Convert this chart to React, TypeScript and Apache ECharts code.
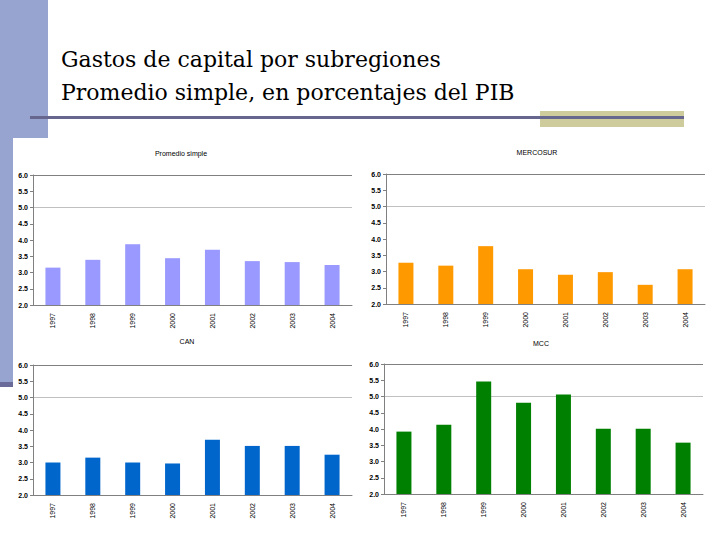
import React, { useEffect, useRef } from "react";
import * as echarts from "echarts";

// years on every panel
const years = ["1997", "1998", "1999", "2000", "2001", "2002", "2003", "2004"];

// capital spending, % of GDP
const promedioSimple = [3.15, 3.39, 3.87, 3.44, 3.7, 3.35, 3.32, 3.23];
const mercosur = [3.27, 3.18, 3.78, 3.07, 2.9, 2.98, 2.59, 3.07];
const can = [3.0, 3.15, 3.0, 2.97, 3.7, 3.51, 3.51, 3.24];
const mcc = [3.92, 4.13, 5.46, 4.81, 5.06, 4.01, 4.01, 3.58];

const panelNames = ["Promedio simple", "MERCOSUR", "CAN", "MCC"];
const panelColors = ["#9999FF", "#FF9900", "#0066CC", "#008000"];
const panelData = [promedioSimple, mercosur, can, mcc];

const slideTitle = ["Gastos de capital por subregiones", "Promedio simple, en porcentajes del PIB"];

// grid boxes (px) for the four small charts
const grids = [
  { left: 33, top: 175, width: 319, height: 130 },
  { left: 386, top: 174, width: 319, height: 130 },
  { left: 33, top: 365, width: 319, height: 130 },
  { left: 384, top: 364, width: 319, height: 130 },
];
// where each panel's little title sits
const titlePos = [
  { x: 181, y: 153 },
  { x: 537, y: 152 },
  { x: 187, y: 341 },
  { x: 541, y: 343 },
];

// only the 5.0 and 6.0 gridlines show (2.0 ... 6.0 in steps of 0.5)
const splitColors = [
  "transparent", "transparent", "transparent", "transparent", "transparent",
  "transparent", "#c0c0c0", "transparent", "#808080",
];

const smallFont = "Liberation Sans";

const App = () => {
  const chartRef = useRef<HTMLDivElement>(null);

  useEffect(() => {
    if (!chartRef.current) return;
    const chart = echarts.init(chartRef.current, undefined, { renderer: "svg" });

    const option: any = {
      animation: false,
      backgroundColor: "#ffffff",
      grid: grids.map((g) => ({ ...g, containLabel: false })),
      xAxis: grids.map((_, i) => ({
        type: "category",
        gridIndex: i,
        data: years,
        axisLine: { lineStyle: { color: "#808080", width: 1 } },
        axisTick: { show: false },
        axisLabel: { rotate: 90, fontSize: 7, color: "#000", fontFamily: smallFont, margin: 8 },
        splitLine: { show: false },
        z: 3,
      })),
      yAxis: grids.map((_, i) => ({
        type: "value",
        gridIndex: i,
        min: 2,
        max: 6,
        interval: 0.5,
        axisLine: { show: true, lineStyle: { color: "#808080", width: 1 } },
        axisTick: { show: true, length: 3, lineStyle: { color: "#808080" } },
        axisLabel: {
          fontSize: 7,
          fontWeight: "bold",
          color: "#000",
          fontFamily: smallFont,
          margin: 5,
          formatter: (v: number) => v.toFixed(1),
        },
        splitLine: { show: true, lineStyle: { color: splitColors, width: 1 } },
      })),
      series: panelData.map((data, i) => ({
        type: "bar",
        name: panelNames[i],
        xAxisIndex: i,
        yAxisIndex: i,
        data,
        barWidth: 15,
        itemStyle: { color: panelColors[i] },
      })),
      graphic: [
        // slide decoration
        { type: "rect", shape: { x: 0, y: 0, width: 48, height: 138 }, style: { fill: "#97A4CF" } },
        { type: "rect", shape: { x: 0, y: 138, width: 13, height: 245 }, style: { fill: "#97A4CF" } },
        { type: "rect", shape: { x: 0, y: 382, width: 13, height: 5 }, style: { fill: "#6B6B99" } },
        { type: "rect", shape: { x: 540, y: 111, width: 144, height: 16 }, style: { fill: "#CECB9C" } },
        { type: "rect", shape: { x: 30, y: 116, width: 654, height: 3 }, style: { fill: "#66668F" } },
        ...slideTitle.map((t, i) => ({
          type: "text",
          x: 61,
          y: 59 + i * 33,
          style: {
            text: t,
            fill: "#000",
            font: 'normal 22px "DejaVu Serif"',
            verticalAlign: "middle",
            align: "left",
          },
        })),
        ...panelNames.map((name, i) => ({
          type: "text",
          x: titlePos[i].x,
          y: titlePos[i].y,
          style: {
            text: name,
            fill: "#000",
            fontFamily: smallFont,
            fontSize: 7,
            align: "center",
            verticalAlign: "middle",
          },
        })),
      ],
    };

    chart.setOption(option);
    return () => {
      chart.dispose();
    };
  }, []);

  return (
    <div ref={chartRef} style={{ position: "absolute", left: 0, top: 0, width: 720, height: 540 }} />
  );
};

export default App;
